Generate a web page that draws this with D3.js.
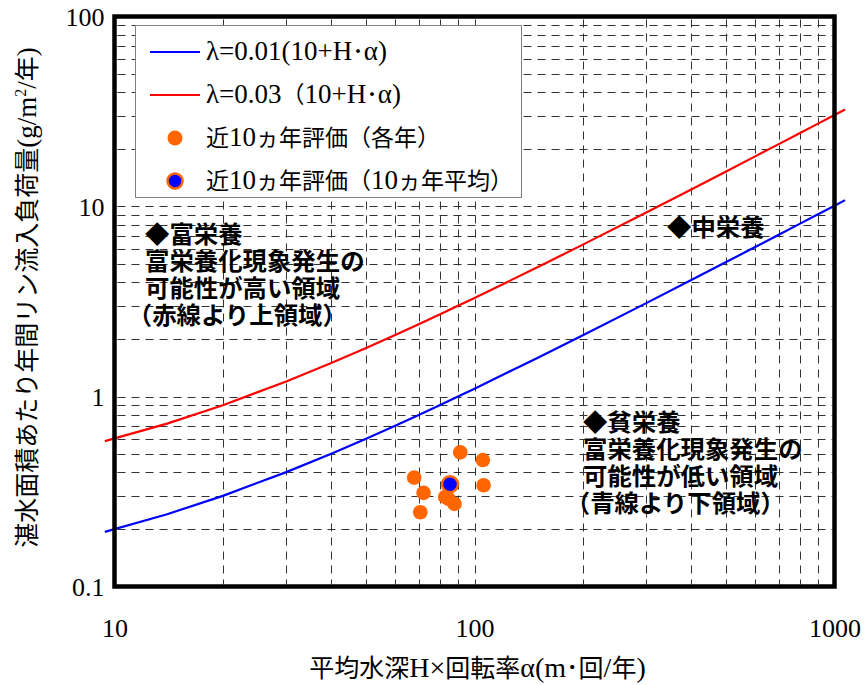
<!DOCTYPE html>
<html>
<head>
<meta charset="utf-8">
<script src="https://cdn.jsdelivr.net/npm/d3@7"></script>
<style>
  html, body { margin: 0; padding: 0; background: #fff; }
  svg { display: block; }
  .halt { font-feature-settings: "halt"; }
</style>
</head>
<body>
<svg id="chart" width="864" height="685"></svg>
<script>
// Reference lines: λ = k(10 + H·α), sampled along H·α
const lineX = [9.4, 14, 20, 30, 40, 50, 60, 70, 80, 90, 100, 150, 200, 300, 400, 500, 600, 700, 800, 900, 1000, 1070];
const blueLine = [0.194, 0.24, 0.30, 0.40, 0.50, 0.60, 0.70, 0.80, 0.90, 1.00, 1.10, 1.60, 2.10, 3.10, 4.10, 5.10, 6.10, 7.10, 8.10, 9.10, 10.10, 10.80];
const redLine = [0.582, 0.72, 0.90, 1.20, 1.50, 1.80, 2.10, 2.40, 2.70, 3.00, 3.30, 4.80, 6.30, 9.30, 12.30, 15.30, 18.30, 21.30, 24.30, 27.30, 30.30, 32.40];

// Yearly evaluations of the last 10 years (H·α, loading)
const yearX = [91.3, 105.5, 68.0, 72.2, 106.0, 70.7, 84.7, 88.0, 86.0, 82.9];
const yearY = [0.508, 0.463, 0.374, 0.311, 0.341, 0.246, 0.289, 0.272, 0.350, 0.296];
// 10-year average
const meanX = [85.5];
const meanY = [0.345];

const xTicks = [10, 100, 1000];
const xTickLabels = ["10", "100", "1000"];
const yTicks = [0.1, 1, 10, 100];
const yTickLabels = ["0.1", "1", "10", "100"];

const legendLabels = ["λ=0.01(10+H･α)", "λ=0.03（10+H･α)", "近10ヵ年評価（各年）", "近10ヵ年評価（10ヵ年平均）"];
const xTitle = "平均水深H×回転率α(m･回/年)";
const yTitleMain = "湛水面積あたり年間リン流入負荷量(g/m";
const yTitleSup = "2";
const yTitleEnd = "/年)";

const upperNote = ["◆富栄養", "富栄養化現象発生の", "可能性が高い領域", "（赤線より上領域）"];
const middleNote = ["◆中栄養"];
const lowerNote = ["◆貧栄養", "富栄養化現象発生の", "可能性が低い領域", "（青線より下領域）"];

const svg = d3.select("#chart");
const L = 114.5, R = 834.5, T = 16.5, B = 586.5;

const x = d3.scaleLog().domain([10, 1000]).range([L, R]);
const y = d3.scaleLog().domain([0.1, 100]).range([B, T]);

const serif = "'Liberation Serif', 'Times New Roman', 'Noto Sans CJK JP', serif";
const gothic = "'Noto Sans CJK JP', sans-serif";

// Writes a mixed string as runs, giving CJK and Latin parts their own sizes
const cjkRe = /[\u3000-\u9fff\uff00-\uffef]+|[^\u3000-\u9fff\uff00-\uffef]+/g;
function mixedRuns(sel, str, cjkSize, latinSize) {
  (str.match(cjkRe) || []).forEach(run => {
    const isCjk = /[\u3000-\u9fff\uff00-\uffef]/.test(run);
    sel.append("tspan").attr("font-size", isCjk ? cjkSize : latinSize).text(run);
  });
}

// Dashed grid at every 1..9 × decade
const xGrid = [];
[10, 100].forEach(d => { for (let k = 1; k <= 9; k++) { const v = d * k; if (v > 10 && v < 1000) xGrid.push(v); } });
const yGrid = [];
[0.1, 1, 10].forEach(d => { for (let k = 1; k <= 9; k++) { const v = +(d * k).toPrecision(3); if (v > 0.1 && v < 100) yGrid.push(v); } });

const grid = svg.append("g").attr("stroke", "#333").attr("stroke-width", 1).attr("stroke-dasharray", "8,6");
grid.selectAll("line.v").data(xGrid).join("line").attr("class", "v")
  .attr("x1", d => Math.round(x(d)) + 0.5).attr("x2", d => Math.round(x(d)) + 0.5)
  .attr("y1", T + 3).attr("y2", B - 2);
grid.selectAll("line.h").data(yGrid).join("line").attr("class", "h")
  .attr("y1", d => Math.round(y(d)) + 0.5).attr("y2", d => Math.round(y(d)) + 0.5)
  .attr("x1", L + 3).attr("x2", R - 2);

// Reference curves
const line = d3.line().x(d => x(d[0])).y(d => y(d[1]));
svg.append("path").datum(lineX.map((v, i) => [v, redLine[i]]))
  .attr("d", line).attr("fill", "none").attr("stroke", "#ff0000").attr("stroke-width", 2.2);
svg.append("path").datum(lineX.map((v, i) => [v, blueLine[i]]))
  .attr("d", line).attr("fill", "none").attr("stroke", "#0000ff").attr("stroke-width", 2.2);

// Frame
svg.append("rect").attr("x", L).attr("y", T).attr("width", R - L).attr("height", B - T)
  .attr("fill", "none").attr("stroke", "#000").attr("stroke-width", 4.5);

// Axes (labels only; the frame provides the lines)
const xAxis = d3.axisBottom(x).tickValues(xTicks).tickFormat((d, i) => xTickLabels[i]).tickSize(0).tickPadding(0);
const gx = svg.append("g").attr("transform", `translate(0,${B + 50})`).call(xAxis);
gx.select(".domain").remove();
gx.selectAll("text").attr("font-family", serif).attr("font-size", 26).attr("fill", "#000").attr("dy", "0");

const yAxis = d3.axisLeft(y).tickValues(yTicks).tickFormat((d, i) => yTickLabels[i]).tickSize(0).tickPadding(0);
const gy = svg.append("g").attr("transform", `translate(${L - 10},0)`).call(yAxis);
gy.select(".domain").remove();
gy.selectAll("text").attr("font-family", serif).attr("font-size", 26).attr("fill", "#000").attr("dy", "0.35em");

// Axis titles
const xt = svg.append("text").attr("x", (L + R) / 2 + 3).attr("y", 677).attr("text-anchor", "middle")
  .attr("font-family", serif).attr("fill", "#000");
mixedRuns(xt, xTitle, 25, 28);

const yt = svg.append("text").attr("transform", `translate(36,${(T + B) / 2 - 4}) rotate(-90)`)
  .attr("text-anchor", "middle").attr("font-family", serif).attr("font-size", 25).attr("fill", "#000");
mixedRuns(yt, yTitleMain, 25, 27);
yt.append("tspan").attr("dy", -10).attr("font-size", 16).text(yTitleSup);
yt.append("tspan").attr("dy", 10).attr("font-size", 27).text(yTitleEnd.slice(0, 1));
mixedRuns(yt, yTitleEnd.slice(1), 25, 27);

// Legend
const lg = svg.append("g");
lg.append("rect").attr("x", 135.5).attr("y", 25.5).attr("width", 386).attr("height", 172)
  .attr("fill", "#fff").attr("stroke", "#808080").attr("stroke-width", 1);
const rowY = [52, 95, 138, 181];
const lineColors = ["#0000ff", "#ff0000"];
lineColors.forEach((c, i) => {
  lg.append("line").attr("x1", 150).attr("x2", 200).attr("y1", rowY[i]).attr("y2", rowY[i])
    .attr("stroke", c).attr("stroke-width", 2.2);
});
lg.append("circle").attr("cx", 175).attr("cy", rowY[2]).attr("r", 7.5).attr("fill", "#ff6600");
lg.append("circle").attr("cx", 175).attr("cy", rowY[3]).attr("r", 7.5).attr("fill", "#0000ff")
  .attr("stroke", "#ff6600").attr("stroke-width", 2.5);
legendLabels.forEach((s, i) => {
  const t = lg.append("text").attr("x", 206).attr("y", rowY[i] + 8)
    .attr("font-family", serif).attr("fill", "#000");
  mixedRuns(t, s, 23, 27);
});

// Yearly points and the 10-year mean
svg.append("g").selectAll("circle").data(yearX.map((v, i) => [v, yearY[i]])).join("circle")
  .attr("cx", d => x(d[0])).attr("cy", d => y(d[1])).attr("r", 7.3).attr("fill", "#ff6600");
svg.append("g").selectAll("circle").data(meanX.map((v, i) => [v, meanY[i]])).join("circle")
  .attr("cx", d => x(d[0])).attr("cy", d => y(d[1])).attr("r", 8).attr("fill", "#0000ff")
  .attr("stroke", "#ff6600").attr("stroke-width", 2.5);

// Trophic-state notes, one text per line
function note(lines, x0, y0) {
  lines.forEach((s, i) => {
    const last = s.startsWith("（");
    svg.append("text").attr("class", last ? "halt" : null)
      .attr("x", last ? x0 - 5 : x0).attr("y", y0 + i * 27)
      .attr("font-family", gothic).attr("font-weight", 700)
      .attr("font-size", 24.4).attr("fill", "#000").text(s);
  });
}
note(upperNote, 145, 243);
note(middleNote, 667, 236);
note(lowerNote, 583, 431);
</script>
</body>
</html>
